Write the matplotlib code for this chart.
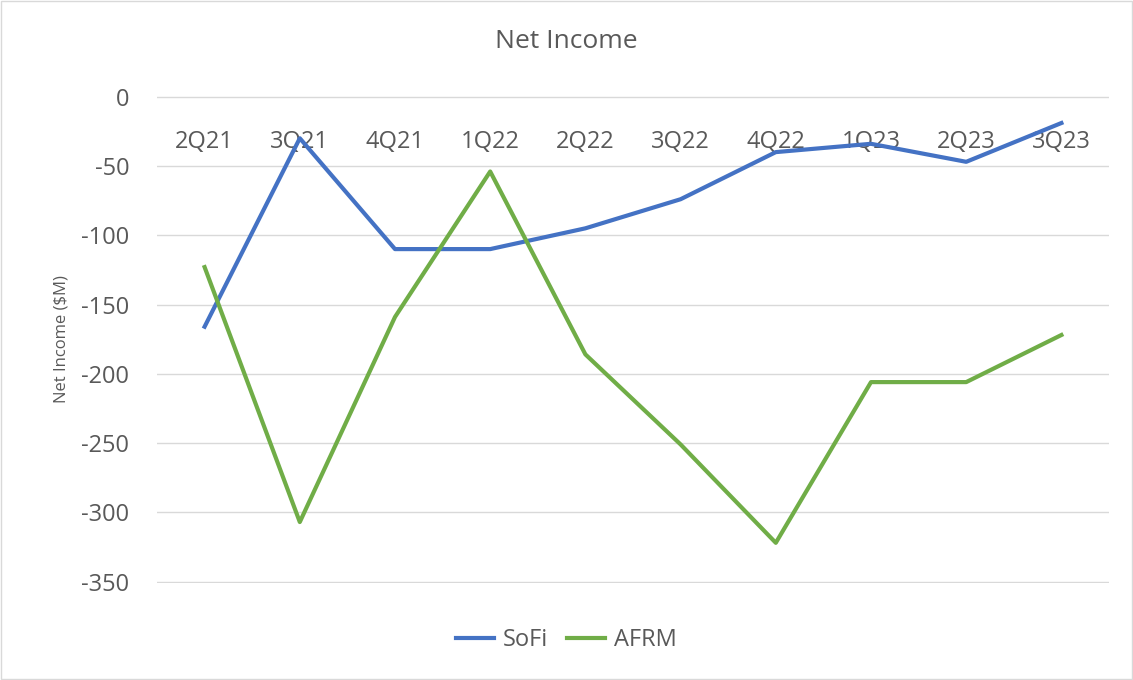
import matplotlib.pyplot as plt

quarters = ["2Q21", "3Q21", "4Q21", "1Q22", "2Q22", "3Q22", "4Q22", "1Q23", "2Q23", "3Q23"]
sofi = [-166, -30, -110, -110, -95, -74, -40, -34, -47, -19]
afrm = [-123, -307, -159, -54, -186, -251, -322, -206, -206, -172]

plt.rcParams["font.family"] = ["Open Sans", "DejaVu Sans"]
plt.rcParams["axes.unicode_minus"] = False
fig = plt.figure(figsize=(11.33, 6.8), dpi=100)
ax = fig.add_axes([157 / 1133, 1 - 583 / 680, 952 / 1133, 487 / 680])

x = range(len(quarters))
ax.plot(x, sofi, color="#4472C4", linewidth=3, label="SoFi")
ax.plot(x, afrm, color="#70AD47", linewidth=3, label="AFRM")

ax.set_xlim(-0.5, len(quarters) - 0.5)
ax.set_ylim(-351, 0.5)
ax.set_yticks(range(-350, 1, 50))
ax.grid(axis="y", color="#D9D9D9", linewidth=1)
ax.set_axisbelow(True)
for s in ax.spines.values():
    s.set_visible(False)
ax.tick_params(axis="y", length=0, labelsize=17, labelcolor="#595959", pad=20)
ax.set_xticks(list(x))
ax.set_xticklabels(quarters)
ax.xaxis.tick_top()
ax.tick_params(axis="x", length=0, labelsize=17, labelcolor="#595959", pad=-42)
ax.set_ylabel("Net Income ($M)", fontsize=12, color="#595959", labelpad=8)

fig.text(0.5, 1 - 42 / 680, "Net Income", ha="center", va="center", fontsize=19, color="#595959")
fig.legend(loc="center", bbox_to_anchor=(0.5, 1 - 640 / 680), ncol=2, frameon=False,
           fontsize=17, labelcolor="#595959", handlelength=1.6, handletextpad=0.4,
           columnspacing=0.8)
fig.patches.append(plt.Rectangle((0.001, 0.001), 0.998, 0.997, transform=fig.transFigure,
                                 fill=False, edgecolor="#D9D9D9", linewidth=1))
fig.savefig("out.png", dpi=100)
